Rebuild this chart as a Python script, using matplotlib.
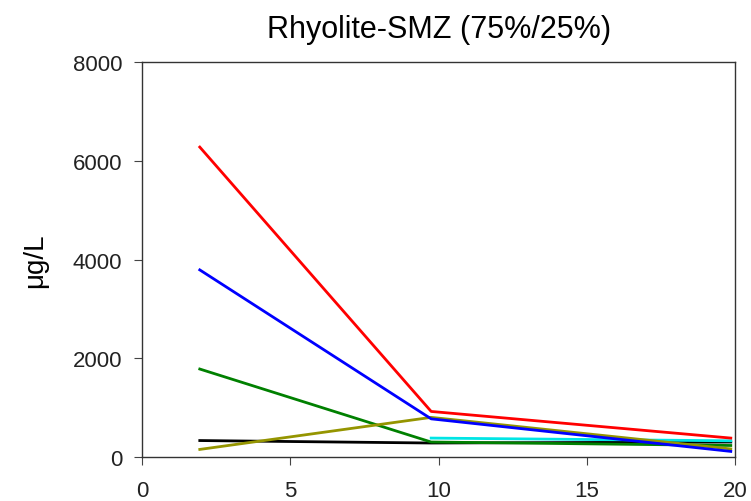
import matplotlib
matplotlib.use("Agg")
import matplotlib.pyplot as plt

x3 = [1.95, 9.75, 19.85]
x2 = [9.75, 19.85]
red = [6280, 920, 380]
blue = [3790, 770, 110]
green = [1780, 300, 230]
olive = [150, 800, 160]
black = [330, 280, 300]
cyan = [380, 325]

plt.rcParams['font.family'] = ['Liberation Sans', 'DejaVu Sans']
fig = plt.figure(figsize=(7.51, 5.02), dpi=100)
ax = fig.add_axes([0.189, 0.088, 0.790, 0.786])

lw = 2.0
ax.plot(x3, black, color='black', lw=lw)
ax.plot(x3, green, color='#008000', lw=lw)
ax.plot(x2, cyan, color='#00e5e5', lw=lw)
ax.plot(x3, olive, color='#959500', lw=lw)
ax.plot(x3, blue, color='#0000ff', lw=lw)
ax.plot(x3, red, color='#ff0000', lw=lw)

ax.set_xlim(0, 20)
ax.set_ylim(0, 8000)
ax.set_xticks([0, 5, 10, 15, 20])
ax.set_yticks([0, 2000, 4000, 6000, 8000])
ax.tick_params(axis='both', direction='out', length=6, labelsize=16, pad=8,
               color='#444444', labelcolor='#222222')
ax.tick_params(axis='x', pad=11)
for s in ax.spines.values():
    s.set_color('#333333')
    s.set_linewidth(1.0)
ax.set_title('Rhyolite-SMZ (75%/25%)', fontsize=22, pad=18)
ax.set_ylabel('μg/L', fontsize=20, labelpad=18)
fig.savefig('out.png', dpi=100)
